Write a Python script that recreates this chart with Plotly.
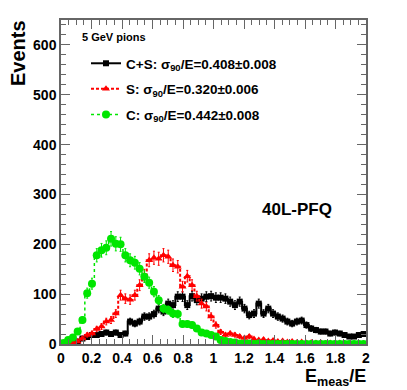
import numpy as np
import plotly.graph_objects as go

# 64 bins of E_meas/E between 0 and 2
n_bins = 64
bin_width = 2.0 / n_bins
bin_centers = [(i + 0.5) * bin_width for i in range(n_bins)]

# C+S (black squares)
events_cs = [0, 2, 4, 5, 11, 14, 18, 18, 20, 23, 20, 23, 18, 21, 45, 41,
             45, 55, 55, 60, 71, 65, 81, 78, 95, 95, 78, 96, 88, 91, 95, 96,
             93, 93, 91, 85, 78, 85, 71, 58, 61, 81, 61, 71, 61, 55, 51, 45,
             41, 45, 47, 38, 31, 28, 25, 25, 21, 23, 21, 18, 15, 15, 18, 20]

# S (red triangles)
events_s = [0, 1, 3, 5, 11, 18, 21, 30, 35, 45, 48, 61, 98, 91, 89, 98,
            118, 138, 168, 173, 171, 178, 175, 158, 155, 115, 136, 118, 96, 81, 75, 55,
            38, 24, 18, 21, 18, 15, 12, 15, 10, 8, 9, 6, 7, 5, 6, 4,
            5, 3, 4, 2, 3, 2, 3, 1, 2, 1, 2, 1, 1, 0, 1, 0]

# C (green circles)
events_c = [2, 8, 13, 25, 48, 102, 121, 178, 188, 193, 211, 201, 200, 178, 168, 163,
            151, 135, 123, 105, 88, 71, 68, 61, 60, 40, 40, 38, 31, 23, 21, 18,
            15, 8, 6, 4, 3, 1, 1, 1, 0, 1, 0, 0, 0, 0, 0, 0,
            0, 0, 0, 0, 0, 0, 0, 0, 0, 0, 0, 0, 0, 0, 0, 0]

series_names = [
    "C+S: σ<sub>90</sub>/E=0.408±0.008",
    "S: σ<sub>90</sub>/E=0.320±0.006",
    "C: σ<sub>90</sub>/E=0.442±0.008",
]

FONT = "Liberation Sans, Arial, Helvetica, sans-serif"

# page is 407x390, the html body adds an 8px offset
OFF = 8
W, H = 407 - OFF, 390 - OFF
# plot frame in page pixels
FL, FR, FT, FB = 61, 366, 20, 344
PW, PH = FR - FL, FB - FT


def px_x(p):
    return (p - FL) / PW


def px_y(p):
    return (FB - p) / PH


styles = [
    dict(color="black", symbol="square", size=6, dash="solid", width=2),
    dict(color="#ff0000", symbol="triangle-up", size=7, dash="3px,2px", width=2),
    dict(color="#00e600", symbol="circle", size=8, dash="dot", width=1.5),
]

fig = go.Figure()
for name, counts, st in zip(series_names, [events_cs, events_s, events_c], styles):
    fig.add_trace(go.Scatter(
        x=bin_centers,
        y=counts,
        name=name,
        legendgroup=name,
        mode="lines+markers",
        line=dict(color=st["color"], width=st["width"], dash=st["dash"], shape="hvh"),
        marker=dict(color=st["color"], symbol=st["symbol"], size=st["size"], line=dict(width=0)),
        error_y=dict(type="data", array=np.sqrt(counts), color=st["color"], thickness=1, width=1),
    ))

axis_common = dict(
    showline=True, linecolor="#666", linewidth=1.5, mirror="ticks",
    ticks="inside", ticklen=9, tickcolor="#666", tickwidth=1,
    showgrid=False, zeroline=False,
    tickfont=dict(family=FONT, size=14, color="black", weight="bold"),
)

fig.update_xaxes(range=[0, 2], dtick=0.2, tick0=0,
                 minor=dict(dtick=0.05, ticklen=5, ticks="inside", tickcolor="#666", showgrid=False),
                 **axis_common)
fig.update_yaxes(range=[0, 650], dtick=100, tick0=0,
                 minor=dict(dtick=20, ticklen=5, ticks="inside", tickcolor="#666", showgrid=False),
                 **axis_common)

bold = dict(family=FONT, color="black", weight="bold")

fig.update_layout(
    width=W, height=H,
    margin=dict(l=FL - OFF, r=407 - FR, t=FT - OFF, b=390 - FB, autoexpand=False),
    paper_bgcolor="white", plot_bgcolor="white",
    showlegend=True,
    legend=dict(
        x=px_x(86), y=px_y(48), xanchor="left", yanchor="top",
        bgcolor="rgba(0,0,0,0)", borderwidth=0,
        font=dict(size=13.5, **bold),
        tracegroupgap=5,
    ),
    annotations=[
        dict(text="5 GeV pions", x=px_x(80), y=px_y(37), xref="paper", yref="paper",
             xanchor="left", yanchor="middle", showarrow=False, font=dict(size=11, **bold)),
        dict(text="40L-PFQ", x=px_x(297), y=px_y(210), xref="paper", yref="paper",
             xanchor="center", yanchor="middle", showarrow=False, font=dict(size=17, **bold)),
        dict(text="Events", x=px_x(18), y=px_y(18), xref="paper", yref="paper",
             xanchor="center", yanchor="top", textangle=-90, showarrow=False,
             font=dict(size=20, **bold)),
        dict(text="E<sub>meas</sub>/E", x=px_x(368), y=px_y(377), xref="paper", yref="paper",
             xanchor="right", yanchor="middle", showarrow=False, font=dict(size=18, **bold)),
    ],
)

fig.write_html("out.html")
